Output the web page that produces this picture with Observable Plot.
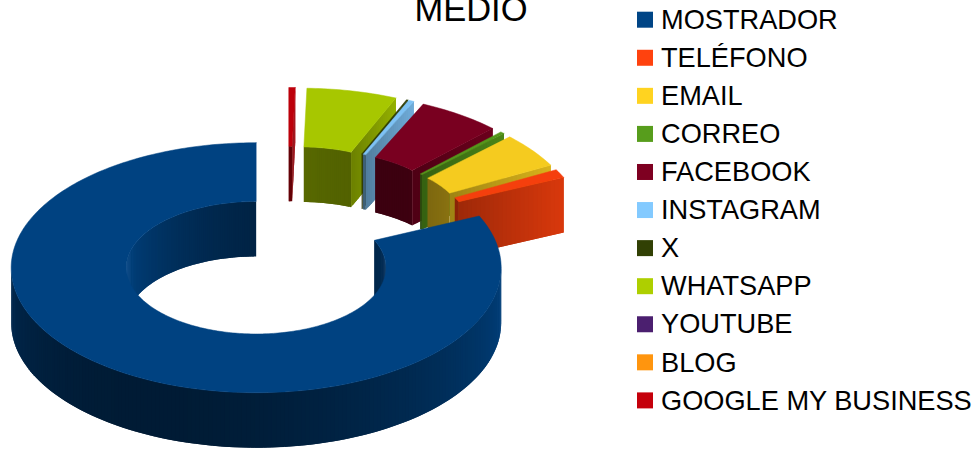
<!DOCTYPE html>
<html>
<head>
<meta charset="utf-8">
<style>html,body{margin:0;padding:0;background:#fff}svg{display:block}</style>
<script src="https://cdn.jsdelivr.net/npm/d3@7"></script>
<script src="https://cdn.jsdelivr.net/npm/@observablehq/plot@0.6"></script>
</head>
<body>
<div id="chart"></div>
<script>
const titleText = "MEDIO";
const categories = ["MOSTRADOR","TELÉFONO","EMAIL","CORREO","FACEBOOK","INSTAGRAM","X","WHATSAPP","YOUTUBE","BLOG","GOOGLE MY BUSINESS"];
const values = [81.8,1.1,4.5,0.28,5.5,0.36,0.1,5.95,0,0,0.42];
const palette = ["#004586","#ff420e","#ffd320","#579d1c","#7e0021","#83caff","#314004","#aecf00","#4b1f6f","#ff950e","#c5000b"];

// Projection of the tilted, exploded ring
const cx = 287.5, cy = 242, rx = 245, ry = 125, hole = 0.53, depth = 55, explode = 0.24;
const rad = d => d * Math.PI / 180;
const total = d3.sum(values);

function shade(hex, k) {
  const c = d3.rgb(hex);
  return d3.rgb(c.r * k, c.g * k, c.b * k).formatHex();
}
const wallShade = (nx, ny, lift) => Math.max(0.2, 0.76 + lift + 0.16 * nx + 0.33 * ny);

const polys = [];
let pid = 0;
function addPoly(pts, color, edge) {
  const id = pid++;
  [...pts, pts[0]].forEach(p => polys.push({id, x: p[0], y: p[1], color, edge}));
}

// slices: counter-clockwise from the top
let acc = 90;
const slices = values.map((v, i) => {
  const sweep = v / total * 360;
  const s = {i, t0: acc, t1: acc + sweep, color: palette[i], v};
  acc += sweep;
  return s;
}).filter(s => s.v > 0);

function drawSlice(s) {
  const mid = rad((s.t0 + s.t1) / 2);
  const ox = cx + explode * rx * Math.cos(mid);
  const oy = cy - explode * ry * Math.sin(mid);
  const P = (deg, r, drop) => [ox + r * rx * Math.cos(rad(deg)), oy - r * ry * Math.sin(rad(deg)) + drop];
  const step = 1;
  const n = Math.max(1, Math.ceil((s.t1 - s.t0) / step));
  const angles = d3.range(n + 1).map(k => s.t0 + (s.t1 - s.t0) * k / n);

  // walls: every strip reaches under the next one, so no seam shows
  const wall = (r, sign, lift) => {
    for (let k = 0; k < n; k++) {
      const a = angles[k], b = angles[Math.min(n, k + 2)], m = rad((angles[k] + angles[k + 1]) / 2);
      const ny = sign * Math.sin(m);
      if (ny < 0) {
        addPoly([P(a, r, 0), P(b, r, 0), P(b, r, depth), P(a, r, depth)],
          shade(s.color, wallShade(sign * Math.cos(m), ny, lift)), "none");
      }
    }
  };
  wall(hole, -1, 0.08);
  wall(1, 1, 0);
  // cut faces
  const cut = (deg) => {
    const strips = 24;
    for (let k = 0; k < strips; k++) {
      const r0 = hole + (1 - hole) * k / strips, r1 = hole + (1 - hole) * Math.min(strips, k + 2) / strips;
      addPoly([P(deg, r0, 0), P(deg, r1, 0), P(deg, r1, depth), P(deg, r0, depth)],
        shade(s.color, 0.62 + 0.23 * (k + 0.5) / strips), "none");
    }
  };
  if (Math.cos(rad(s.t0)) > 0.01) cut(s.t0);
  if (Math.cos(rad(s.t1)) < -0.01) cut(s.t1);
  // top face
  const top = [...angles.map(a => P(a, 1, 0)), ...angles.slice().reverse().map(a => P(a, hole, 0))];
  const topColor = shade(s.color, 0.96);
  addPoly(top, topColor, topColor);
}

// back to front: last category first, the large first category last
[...slices].reverse().forEach(drawSlice);

const legendRows = categories.map((name, i) => ({name, color: palette[i], row: 19.7 + 38.07 * i}));

const plot = Plot.plot({
  width: 976,
  height: 450,
  margin: 0,
  x: {type: "linear", domain: [0, 976], range: [0, 976], axis: null},
  y: {type: "linear", domain: [0, 450], range: [0, 450], axis: null},
  color: {type: "identity"},
  style: {background: "#fff"},
  marks: [
    Plot.line(polys, {x: "x", y: "y", z: "id", fill: "color", stroke: "edge", strokeWidth: 0.5, curve: "linear"}),
    Plot.text([titleText], {x: () => 470.5, y: () => 9, text: d => d, textAnchor: "middle", lineAnchor: "middle",
      fontSize: 34.5, fontFamily: "Liberation Sans", fill: "#000"}),
    Plot.rect(legendRows, {x1: () => 637, x2: () => 653, y1: d => d.row - 8, y2: d => d.row + 8, fill: "color"}),
    Plot.text(legendRows, {x: () => 660.5, y: "row", text: "name", textAnchor: "start", lineAnchor: "middle",
      fontSize: 27.2, fontFamily: "Liberation Sans", fill: "#000"})
  ]
});
document.getElementById("chart").appendChild(plot);
</script>
</body>
</html>
